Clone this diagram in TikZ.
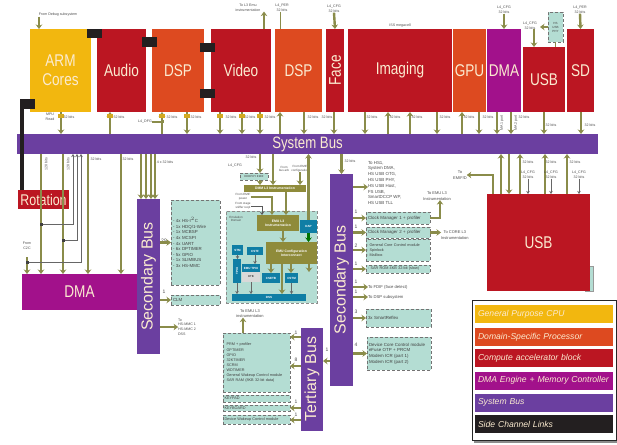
\documentclass[tikz,border=0pt]{standalone}
\usepackage{fontspec}
\setmainfont{Liberation Sans}
\newfontfamily\condfont[FakeStretch=0.8]{Liberation Sans}
\usetikzlibrary{arrows.meta}

\definecolor{cpuyellow}{HTML}{F2B70F}
\definecolor{dsporange}{HTML}{DD4A20}
\definecolor{accelred}{HTML}{BB1622}
\definecolor{dmapurple}{HTML}{A2118B}
\definecolor{buspurple}{HTML}{6B3FA0}
\definecolor{sideblack}{HTML}{231F20}
\definecolor{linkolive}{HTML}{8A8C4A}
\definecolor{boxteal}{HTML}{B4DDD3}
\definecolor{chipblue}{HTML}{0F7EA5}
\definecolor{chipolive}{HTML}{8F8B3A}
\definecolor{labelcream}{HTML}{FBEBD0}

\tikzset{
  block/.style={inner sep=0,outer sep=0,text=labelcream,align=center,font=\condfont\fontsize{17}{19}\selectfont},
  cpublock/.style={block,fill=cpuyellow},
  dspblock/.style={block,fill=dsporange},
  redblock/.style={block,fill=accelred},
  dmablock/.style={block,fill=dmapurple},
  busblock/.style={block,fill=buspurple},
  sideblock/.style={inner sep=0,outer sep=0,fill=sideblack},
  peribox/.style={inner sep=1pt,outer sep=0,fill=boxteal,draw=black!55,densely dashed,line width=.5pt,
    text=black!75,align=left,font=\fontsize{4.4}{5.6}\selectfont},
  widebox/.style={peribox,font=\fontsize{3.8}{5}\selectfont},
  chipblue/.style={inner sep=0,outer sep=0,fill=chipblue,text=white,font=\fontsize{3}{3.6}\selectfont\bfseries,align=center},
  chipolive/.style={inner sep=0,outer sep=0,fill=chipolive,text=white,font=\fontsize{3.4}{4.2}\selectfont\bfseries,align=center},
  tinylabel/.style={inner sep=0,outer sep=0,text=black!70,align=center,font=\fontsize{3.6}{4.6}\selectfont},
  countlabel/.style={inner sep=0,outer sep=0,text=black!70,font=\fontsize{5}{5}\selectfont},
  legendrow/.style={inner sep=0,outer sep=0,minimum width=138,minimum height=18,text=labelcream,
    font=\fontsize{8.6}{9}\selectfont\itshape,text width=132,align=left},
  buslink/.style={draw=linkolive,line width=2.4pt,-{Stealth[length=4.5pt,width=6.5pt]}},
  thinlink/.style={draw=black!60,line width=.6pt,-{Stealth[length=3pt,width=3.5pt]}},
  capmark/.style={fill=cpuyellow!70!linkolive},
}

\begin{document}
\begin{tikzpicture}[x=1pt,y=-1pt]
  \useasboundingbox (0,0) rectangle (617,444);

  % top row of blocks
  \node[cpublock,minimum width=61,minimum height=83] (arm) at (60.5,70.5) {ARM\\Cores};
  \node[redblock,minimum width=49,minimum height=83] (audio) at (121.5,70.5) {Audio};
  \node[dspblock,minimum width=52,minimum height=83] (dsp) at (178,70.5) {DSP};
  \node[redblock,minimum width=60,minimum height=83] (video) at (241,70.5) {Video};
  \node[dspblock,minimum width=47,minimum height=83] (dspface) at (298.5,70.5) {DSP};
  \node[redblock,minimum width=18,minimum height=83] (face) at (335,70.5) {\rotatebox{90}{Face}};
  \node[redblock,minimum width=104,minimum height=83] (imaging) at (400,70.5) {Imaging};
  \node[dspblock,minimum width=33,minimum height=83] (gpu) at (469.5,70.5) {GPU};
  \node[dmablock,minimum width=34,minimum height=83] (dmatop) at (504,70.5) {DMA};
  \node[redblock,minimum width=42,minimum height=65] (usbtop) at (544,79.5) {USB};
  \node[redblock,minimum width=27,minimum height=83] (sd) at (580.5,70.5) {SD};
  \node[peribox,minimum width=15,minimum height=30,font=\fontsize{3}{4}\selectfont,align=center,inner sep=0] (usbphy) at (555.5,27) {HS\\USB\\PHY};

  % buses
  \node[busblock,minimum width=581,minimum height=20,font=\condfont\fontsize{16.5}{18}\selectfont] (bus) at (307.5,144) {System Bus};
  \node[busblock,minimum width=23,minimum height=155,font=\fontsize{16}{18}\selectfont] (secbusl) at (148.5,276.5) {\rotatebox{90}{Secondary Bus}};
  \node[busblock,minimum width=23,minimum height=212,font=\fontsize{16}{18}\selectfont] (secbusr) at (341.5,280) {\rotatebox{90}{Secondary Bus}};
  \node[busblock,minimum width=22,minimum height=103,font=\fontsize{16}{18}\selectfont] (terbus) at (312,379) {\rotatebox{90}{Tertiary Bus}};

  % lower blocks
  \node[dmablock,minimum width=115,minimum height=36] (dmalow) at (79.5,292) {DMA};
  \node[redblock,minimum width=51,minimum height=19,font=\condfont\fontsize{15.5}{17}\selectfont] (rotation) at (43.5,199.5) {Rotation};
  \node[inner sep=0,outer sep=0,fill=boxteal,draw=black!40,minimum width=8,minimum height=25] (usbstub) at (589,278.5) {};
  \node[redblock,minimum width=103,minimum height=97] (usblow) at (538.5,242.5) {USB};

  % side channel links
  \node[sideblock,minimum width=15,minimum height=9] (sidea) at (94.5,33.5) {};
  \node[sideblock,minimum width=15,minimum height=10] (sideb) at (149.5,42) {};
  \node[sideblock,minimum width=15,minimum height=9] (sidec) at (207.5,47.5) {};
  \node[sideblock,minimum width=15,minimum height=9] (sided) at (207.5,93.5) {};
  \node[sideblock,minimum width=15,minimum height=10] (sidee) at (27.5,104) {};
  \draw[sideblack,line width=4.5pt] (sidee.south -| 22,0) -- (rotation.north -| 22,0);

  % top stubs
  \node[tinylabel] (lbldebug) at (58,15) {From Debug subsystem};
  \node[tinylabel] (lblemu) at (248,8) {To L3 Emu\\instrumentation};
  \node[tinylabel] (lblper) at (282,8) {L4\_PER\\32 bits};
  \node[tinylabel] (lblfacecfg) at (334,9) {L4\_CFG\\32 bits};
  \node[tinylabel] (lbliss) at (400,25.5) {ISS megacell};
  \node[tinylabel] (lbldmacfg) at (504,10) {L4\_CFG\\32 bits};
  \node[tinylabel] (lblusbcfg) at (530,25.5) {L4\_CFG\\32 bits};
  \node[tinylabel] (lblsdper) at (580,10) {L4\_PER\\32 bits};
  \node[tinylabel] (lblwkup) at (50,117) {MPU\\Read};
  \node[tinylabel] (lbldspcfg) at (145,122) {L4\_DFG};

  \draw[buslink] (lbldebug.south -| 39,0) -- (arm.north -| 39,0);
  \draw[buslink] (video.north -| 264,0) -- (lblemu.south -| 264,0);
  \draw[linkolive,line width=1pt] (lblper.south -| 280,0) -- (dspface.north -| 280,0);
  \draw[buslink] (lblfacecfg.south) -- (face.north);
  \draw[buslink] (lbldmacfg.south) -- (dmatop.north);
  \draw[buslink] (lblusbcfg.south -| 534,0) -- (usbtop.north -| 534,0);
  \draw[buslink] (lblsdper.south) -- (sd.north);
  \draw[buslink] (usbphy.west) -- ++(-8,0);
  \draw[linkolive,line width=1pt] (usbphy.south) -- (usbtop.north -| usbphy.south);
  \draw[linkolive,line width=2.4pt] (lbldspcfg.east) -- ++(11,0) -- ++(0,-2);

  % blocks to system bus
  \foreach \x/\b in {61/arm,187/dsp,220/video,242/video,260/video,304/dspface,334/face,365/imaging,437/imaging,479/gpu,497/dmatop,511/dmatop,544/usbtop,581/sd}
    \draw[buslink] (\b.south -| \x,0) -- (bus.north -| \x,0);
  \foreach \x/\b in {110/audio,162/dsp,280/dspface,388/imaging,410/imaging,462/gpu}
    \draw[buslink] (bus.north -| \x,0) -- (\b.south -| \x,0);
  \foreach \x in {61,110,162,187,220,242,260}
    \fill[capmark] (\x-3,114) rectangle (\x+3,118);
  \foreach \x/\lx in {61/69,110/119,162/172,187/196,220/231,242/250,260/270,304/313,334/327,365/372,388/395,410/417,437/445,462/469,479/488,511/524}
    \node[tinylabel] (bits\x) at (\lx,117) {32 bits};
  \node[tinylabel] (bitsusb) at (551,125) {32 bits};
  \node[tinylabel] (bitssd) at (590,125) {32 bits};
  \node[tinylabel,rotate=90] (lblmaone) at (502,123) {MA 1 port};
  \node[tinylabel,rotate=90] (lblmatwo) at (516,123) {MA 2 port};

  % system bus to dma and secondary bus
  \foreach \x in {41,63,88,121}
    \draw[buslink] (bus.south -| \x,0) -- (dmalow.north -| \x,0);
  \foreach \x in {141,146,151,155}
    \draw[buslink] (bus.south -| \x,0) -- (secbusl.north -| \x,0);
  \node[tinylabel] (lblfourbus) at (165,162) {4 x 32 bits};
  \node[tinylabel] (bitsdmaa) at (96,159) {32 bits};
  \node[tinylabel] (bitsdmab) at (128,159) {32 bits};
  \node[tinylabel,rotate=90] (bitsdmac) at (46,164) {128 bits};
  \node[tinylabel,rotate=90] (bitsdmad) at (68,164) {128 bits};
  \node[tinylabel] (lblcfourc) at (27,246) {From\\C2C};
  \coordinate (cfour) at (27,257);
  \draw[buslink] (cfour) -- (dmalow.north -| cfour);
  \draw[thinlink] (41,224) -- (73,224) -- (bus.south -| 73,0);
  \draw[thinlink] (63,240) -- (77,240) -- (bus.south -| 77,0);
  \draw[thinlink] (27,262) -- (81,262) -- (bus.south -| 81,0);
  \foreach \x/\y in {41/224,63/240,27/262}
    \fill[black!75] (\x-1.5,\y-1.5) rectangle (\x+1.5,\y+1.5);

  % left peripherals
  \node[peribox,minimum width=49,minimum height=85,text width=45] (perileft) at (195.5,242.5) {- 4x HS-I$^2$C\\- 1x HDQ/1-Wire\\- 1x MCBSP\\- 4x MCSPI\\- 4x UART\\- 6x DPTIMER\\- 5x GPIO\\- 1x SLIMBUS\\- 3x HS-MMC};
  \node[peribox,minimum width=49,minimum height=10,text width=45] (clm) at (195.5,300) {CLM};
  \node[tinylabel,align=left] (lblmmc) at (187,327) {To\\HS-MMC 1\\HS-MMC 2\\DSS};
  \node[countlabel] (cntleft) at (164,241) {29};
  \node[countlabel] (cntclm) at (164,292) {1};
  \draw[buslink] (secbusl.east |- perileft.west) -- (perileft.west);
  \draw[buslink] (secbusl.east |- clm.west) -- (clm.west);
  \draw[buslink] (secbusl.east |- lblmmc.west) -- (lblmmc.west);

  % debug subsystem
  \node[inner sep=0,outer sep=0,fill=boxteal,draw=black!45,densely dashed,minimum width=91,minimum height=92] (chip) at (271.5,257) {};
  \node[peribox,minimum width=28,minimum height=7,inner sep=0,align=center,font=\fontsize{2.8}{3}\selectfont] (emif) at (254,176.5) {DDRPHY EMIF};
  \node[chipolive,minimum width=62,minimum height=7] (dmm) at (275,188.5) {DMM L3 Instrumentation};
  \node[chipolive,minimum width=42,minimum height=16] (emu) at (278,223) {EMU L3\\Instrumentation};
  \node[chipblue,minimum width=17,minimum height=13] (dap) at (308.5,226.5) {DAP};
  \node[chipolive,minimum width=51,minimum height=22] (config) at (291.5,253) {EMU Configuration\\Interconnect};
  \node[chipblue,minimum width=11,minimum height=10] (stm) at (237.5,250) {STM};
  \node[chipblue,minimum width=16,minimum height=8] (cstf) at (255,251) {CSTF};
  \node[chipblue,minimum width=8,minimum height=24] (tpiu) at (237,271) {\rotatebox{90}{TPIU}};
  \node[chipblue,minimum width=18,minimum height=8] (etb) at (251,268) {EMU TPIU};
  \node[inner sep=0,outer sep=0,fill=black!15,minimum width=18,minimum height=10,font=\fontsize{2.8}{3}\selectfont] (etbram) at (251,277) {ETB};
  \node[chipblue,minimum width=18,minimum height=10] (ctia) at (271,278) {CSETB};
  \node[chipblue,minimum width=13,minimum height=10] (ctib) at (291.5,278) {CSTM};
  \node[chipblue,minimum width=74,minimum height=7] (dss) at (269,297.5) {DSS};
  \node[tinylabel] (lbldmmcfg) at (235,166) {L4\_CFG};
  \node[tinylabel] (lbldbgbus) at (251,157) {32 bits};
  \node[tinylabel,font=\fontsize{3}{3.8}\selectfont] (lblarb) at (284,169) {From\\bus arb};
  \node[tinylabel,font=\fontsize{3}{3.8}\selectfont] (lblcfgsrc) at (300,169) {From EMIF\\configuration};
  \node[tinylabel,font=\fontsize{3}{3.8}\selectfont] (lblemif) at (243,197) {From EMIF\\power};
  \node[tinylabel,font=\fontsize{3}{3.8}\selectfont] (lblstage) at (243,206) {From stage\\sniffer req1};
  \node[tinylabel,font=\fontsize{3}{3.8}\selectfont] (lblchip) at (236,219) {Emulation\\Domain};

  \draw[buslink] (bus.south -| 260,0) -- (emif.north -| 260,0);
  \draw[buslink] (bus.south -| 273,0) -- (dmm.north -| 273,0);
  \draw[buslink] (lblcfgsrc.south) -- (dmm.north -| lblcfgsrc.south);
  \draw[buslink] (emif.south -| 260,0) -- (dmm.north -| 260,0);
  \draw[buslink] (dmm.south -| 286,0) -- (emu.north -| 286,0);
  \draw[linkolive,line width=1.6pt,-{Stealth[length=4pt,width=5pt]}] (lblemif.east) -- (272,197) -- (emu.north -| 272,0);
  \draw[black!65,line width=1pt,-{Stealth[length=3pt,width=4pt]}] (lblstage.east) -- (262,206) -- (emu.north -| 262,0);
  \draw[buslink] (dap.north) -- (bus.south -| dap.north);
  \draw[-{Stealth[length=4.5pt,width=6.5pt]},draw=green!45!black,line width=2.4pt] (dap.south) -- (config.north -| dap.south);
  \draw[buslink] (emu.south -| 283,0) -- (config.north -| 283,0);
  \draw[buslink] (config.south -| 282,0) -- (dss.north -| 282,0);
  \draw[buslink] (config.south -| 271,0) -- (ctia.north -| 271,0);
  \draw[buslink] (config.south -| 291,0) -- (ctib.north -| 291,0);
  \draw[buslink] (config.south -| 309,0) -- ++(0,8);
  \draw[thinlink] (cstf.south) -- (etb.north -| cstf.south);
  \draw[thinlink] (stm.south) -- (tpiu.north -| stm.south);
  \draw[thinlink] (tpiu.south) -- (dss.north -| tpiu.south);
  \draw[thinlink] (etbram.south) -- (dss.north -| etbram.south);
  \draw[thinlink] (ctib.south) -- (dss.north -| ctib.south);

  % system bus to right secondary bus
  \draw[buslink] (bus.south -| secbusr.north) -- (secbusr.north);
  \node[tinylabel] (lblsecr) at (350,161) {32 bits};

  % right peripherals
  \node[tinylabel,align=left,anchor=north west,font=\fontsize{4.4}{5.8}\selectfont] (lblhs) at (368,161) {To HS1,\\System DMA,\\HS USB OTG,\\HS USB PHY,\\HS USB Host,\\FS USB,\\SmartDCCP WP,\\HS USB TLL};
  \node[peribox,minimum width=64,minimum height=12,text width=60] (clkone) at (398,218) {Clock Manager 1 + profiler};
  \node[peribox,minimum width=64,minimum height=11,text width=60] (clktwo) at (398,232.5) {Clock Manager 2 + profiler};
  \node[widebox,minimum width=64,minimum height=22,text width=62,inner sep=0] (gencore) at (398,250) {- General Core Control module\\- Spinlock\\- Mailbox};
  \node[widebox,minimum width=64,minimum height=8,text width=60,inner ysep=0] (sam) at (398,269) {- SAR ROM 4KB 32-bit (slow)};
  \node[tinylabel,anchor=west,font=\fontsize{4.2}{5}\selectfont] (lblfdif) at (368,287) {To FDIF (face detect)};
  \node[tinylabel,anchor=west,font=\fontsize{4.2}{5}\selectfont] (lbldsp) at (368,297) {To DSP subsystem};
  \node[peribox,minimum width=65,minimum height=18,text width=61] (smart) at (398.5,318) {3x SmartReflex};
  \node[peribox,minimum width=64,minimum height=33,text width=60] (devcore) at (399,353.5) {Device Core Control module\\eFuse OTP + PRCM\\Modem ICR (part 1)\\Modem ICR (part 2)};

  \node[tinylabel,font=\fontsize{4}{5.4}\selectfont] (lblemuone) at (437,196) {To EMU L3\\Instrumentation};
  \node[tinylabel,anchor=west,font=\fontsize{4}{5.4}\selectfont] (lblcore) at (441,235) {To CORE L3\\Instrumentation};
  \coordinate (clkbend) at (440,218);
  \draw[buslink] (clkone.east) -- (clkbend) -- (lblemuone.south -| clkbend);
  \draw[buslink] (clktwo.east) -- (clktwo.east -| lblcore.west);

  \draw[buslink] (secbusr.east |- 0,187) -- (lblhs.west |- 0,187);
  \foreach \b in {clkone,clktwo,gencore,sam,smart,devcore}
    \draw[buslink] (secbusr.east |- \b.west) -- (\b.west);
  \draw[buslink] (secbusr.east |- lblfdif.west) -- (lblfdif.west);
  \draw[buslink] (secbusr.east |- lbldsp.west) -- (lbldsp.west);
  \node[countlabel] (cntclkone) at (356,212) {1};
  \node[countlabel] (cntclktwo) at (356,227) {1};
  \node[countlabel] (cntgen) at (356,246) {2};
  \node[countlabel] (cntsam) at (356,264) {1};
  \node[countlabel] (cntfdif) at (356,282) {1};
  \node[countlabel] (cntdsp) at (356,292) {1};
  \node[countlabel] (cntsmart) at (356,312) {3};
  \node[countlabel] (cntdev) at (356,345) {4};

  % tertiary bus peripherals
  \node[widebox,minimum width=67,minimum height=59,text width=65,inner sep=0] (prm) at (256.5,362.5) {\ \ PRM + profiler\\[1.5pt]- GPTIMER\\- GPIO\\- 32KTIMER\\- SCRM\\- WDTIMER\\- General Wakeup Control module\\- SAR RAM (8KB 32-bit data)};
  \node[widebox,minimum width=67,minimum height=7,text width=64,inner ysep=0] (kbdone) at (256.5,398.5) {KEYPAD};
  \node[widebox,minimum width=67,minimum height=6,text width=64,inner ysep=0] (kbdtwo) at (256.5,408) {KEYBOARD};
  \node[widebox,minimum width=67,minimum height=9,text width=64,inner ysep=0] (wakeup) at (256.5,419.5) {Device Wakeup Control module};
  \node[tinylabel,font=\fontsize{4}{5.4}\selectfont] (lblemutwo) at (250,313.5) {To EMU L3\\instrumentation};
  \draw[buslink] (prm.north -| 243,0) -- (lblemutwo.south -| 243,0);
  \foreach \y in {337,366,408,420}
    \draw[buslink] (terbus.west |- 0,\y) -- (prm.east |- 0,\y);
  \draw[buslink] (secbusr.west |- 0,361) -- (terbus.east |- 0,361);
  \node[countlabel] (cnttera) at (296,333) {1};
  \node[countlabel] (cntterb) at (296,360) {8};
  \node[countlabel] (cntterc) at (296,402) {1};
  \node[countlabel] (cntterd) at (296,415) {1};
  \node[countlabel] (cntsec) at (327,350) {1};

  % usb below bus
  \node[tinylabel,font=\fontsize{4}{5.4}\selectfont] (lblemifd) at (460,175) {To\\EMIF/D};
  \coordinate (emifbend) at (493,175);
  \draw[buslink] (usblow.north -| emifbend) -- (emifbend) -- (lblemifd.east);
  \foreach \x in {501,520,545,567}
    \draw[buslink] (usblow.north -| \x,0) -- (bus.south -| \x,0);
  \draw[buslink] (bus.south -| 509,0) -- (usblow.north -| 509,0);
  \node[tinylabel] (lblcfga) at (528,175) {L4\_CFG\\32 bits};
  \node[tinylabel] (lblcfgb) at (551,175) {L4\_CFG\\32 bits};
  \node[tinylabel] (lblcfgc) at (579,175) {L4\_CFG\\32 bits};
  \foreach \b in {lblcfga,lblcfgb,lblcfgc}
    \draw[thinlink] (\b.south) -- (usblow.north -| \b.south);
  \foreach \x in {528,551,575}
    \node[tinylabel] (bits\x) at (\x,162) {32 bits};

  % legend
  \fill[black!45] (474,303) rectangle (617,443);
  \node[inner sep=0,outer sep=0,fill=white,draw=black!85,line width=.8pt,minimum width=144,minimum height=140] (legend) at (544,370) {};
  \node[legendrow,fill=cpuyellow] (keycpu) at (544,314) {General Purpose CPU};
  \node[legendrow,fill=dsporange] (keydsp) at (544,337) {Domain-Specific Processor};
  \node[legendrow,fill=accelred] (keyaccel) at (544,358) {Compute accelerator block};
  \node[legendrow,fill=dmapurple] (keydma) at (544,380.5) {DMA Engine + Memory Controller};
  \node[legendrow,fill=buspurple] (keybus) at (544,402.5) {System Bus};
  \node[legendrow,fill=sideblack] (keyside) at (544,424) {Side Channel Links};
\end{tikzpicture}
\end{document}
